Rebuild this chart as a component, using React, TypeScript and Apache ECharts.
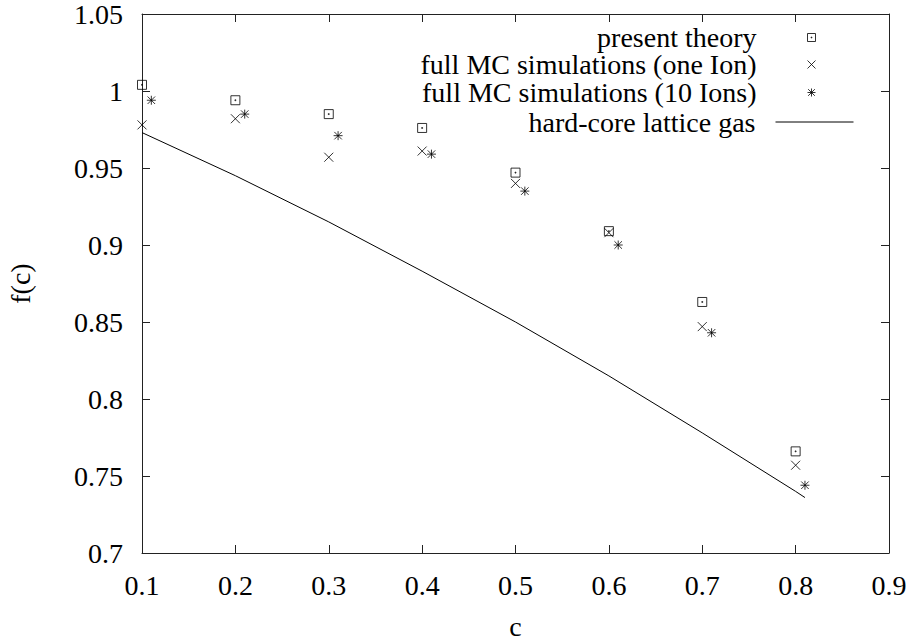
import React, { useEffect, useRef } from "react";
import * as echarts from "echarts";

const seriesNames = [
  "present theory",
  "full MC simulations (one Ion)",
  "full MC simulations (10 Ions)",
  "hard-core lattice gas",
];
const theoryC = [0.1, 0.2, 0.3, 0.4, 0.5, 0.6, 0.7, 0.8];
const theoryF = [1.004, 0.994, 0.985, 0.976, 0.947, 0.909, 0.863, 0.766];
const oneIonC = [0.1, 0.2, 0.3, 0.4, 0.5, 0.6, 0.7, 0.8];
const oneIonF = [0.978, 0.982, 0.957, 0.961, 0.94, 0.908, 0.847, 0.757];
const tenIonsC = [0.11, 0.21, 0.31, 0.41, 0.51, 0.61, 0.71, 0.81];
const tenIonsF = [0.994, 0.985, 0.971, 0.959, 0.935, 0.9, 0.843, 0.744];
const latticeC = [0.1, 0.2, 0.3, 0.4, 0.5, 0.6, 0.7, 0.8, 0.81];
const latticeF = [0.973, 0.945, 0.915, 0.883, 0.85, 0.815, 0.778, 0.74, 0.736];
const xTickLabels = ["0.1", "0.2", "0.3", "0.4", "0.5", "0.6", "0.7", "0.8", "0.9"];
const yTickLabels = ["0.7", "0.75", "0.8", "0.85", "0.9", "0.95", "1", "1.05"];

const SQ = "path://M0,0 L10,0 L10,10 L0,10 Z M4.5,4.5 L5.5,4.5 L5.5,5.5 L4.5,5.5 Z";
const CROSS = "path://M0,0 L10,10 M10,0 L0,10";
const STAR = "path://M0,0 L10,10 M10,0 L0,10 M5,-1 L5,11 M-1,5 L11,5";

const FONT = "'Liberation Serif', 'Times New Roman', serif";
const zip = (a: number[], b: number[]) => a.map((v, i) => [v, b[i]]);

export default function App() {
  const ref = useRef<HTMLDivElement>(null);
  useEffect(() => {
    if (!ref.current) return;
    const chart = echarts.init(ref.current, undefined, { renderer: "svg" });
    const textStyle = { fontFamily: FONT, fontSize: 28, color: "#000" };
    const legendText = { ...textStyle, lineHeight: 24 };
    const symStyle = { color: "transparent", borderColor: "#000", borderWidth: 1 };
    const axisLine = { show: true, lineStyle: { color: "#222", width: 1 } };
    const axisTick = { show: true, inside: true, length: 8, lineStyle: { color: "#222", width: 1 } };
    const scatterLegend = (name: string, icon: string, top: number) => ({
      data: [{ name, icon }],
      orient: "vertical",
      align: "right",
      right: 94,
      top,
      padding: 0,
      itemWidth: 100,
      itemHeight: 8,
      selectedMode: false,
      textStyle: legendText,
      itemStyle: symStyle,
    });
    chart.setOption({
      animation: false,
      backgroundColor: "#fff",
      textStyle: { fontFamily: FONT },
      grid: {
        left: 142,
        right: 21,
        top: 14,
        bottom: 88,
        show: false,
        containLabel: false,
        outerBoundsMode: "none",
      },
      legend: [
        scatterLegend(seriesNames[0], SQ, 23.5),
        scatterLegend(seriesNames[1], CROSS, 50.5),
        scatterLegend(seriesNames[2], STAR, 78.5),
        {
          data: [{ name: seriesNames[3] }],
          orient: "vertical",
          align: "right",
          right: 56,
          top: 108,
          padding: 0,
          itemWidth: 78,
          itemHeight: 8,
          selectedMode: false,
          textStyle: { ...legendText, padding: [0, 15, 0, 0] },
          lineStyle: { color: "#000", width: 1 },
          itemStyle: { color: "transparent", borderWidth: 0, opacity: 0 },
        },
      ],
      xAxis: [
        {
          type: "value",
          min: 0.1,
          max: 0.9,
          interval: 0.1,
          name: "c",
          nameLocation: "middle",
          nameGap: 59,
          nameTextStyle: textStyle,
          axisLine,
          axisTick,
          splitLine: { show: false },
          axisLabel: {
            fontFamily: FONT,
            fontSize: 28,
            color: "#000",
            margin: 18,
            formatter: (v: number) => xTickLabels[Math.round((v - 0.1) / 0.1)],
          },
        },
        {
          type: "value",
          position: "top",
          min: 0.1,
          max: 0.9,
          interval: 0.1,
          axisLine,
          axisTick,
          splitLine: { show: false },
          axisLabel: { show: false },
        },
      ],
      yAxis: [
        {
          type: "value",
          min: 0.7,
          max: 1.05,
          interval: 0.05,
          name: "f(c)",
          nameLocation: "middle",
          nameGap: 108,
          nameRotate: 90,
          nameTextStyle: textStyle,
          axisLine,
          axisTick,
          splitLine: { show: false },
          axisLabel: {
            fontFamily: FONT,
            fontSize: 28,
            color: "#000",
            margin: 19,
            formatter: (v: number) => yTickLabels[Math.round((v - 0.7) / 0.05)],
          },
        },
        {
          type: "value",
          position: "right",
          min: 0.7,
          max: 1.05,
          interval: 0.05,
          axisLine,
          axisTick,
          splitLine: { show: false },
          axisLabel: { show: false },
        },
      ],
      series: [
        {
          name: seriesNames[0],
          type: "scatter",
          symbol: SQ,
          symbolSize: 9,
          itemStyle: symStyle,
          data: zip(theoryC, theoryF),
        },
        {
          name: seriesNames[1],
          type: "scatter",
          symbol: CROSS,
          symbolSize: 9,
          itemStyle: symStyle,
          data: zip(oneIonC, oneIonF),
        },
        {
          name: seriesNames[2],
          type: "scatter",
          symbol: STAR,
          symbolSize: 9,
          itemStyle: symStyle,
          data: zip(tenIonsC, tenIonsF),
        },
        {
          name: seriesNames[3],
          type: "line",
          symbol: "none",
          showSymbol: false,
          lineStyle: { color: "#000", width: 1 },
          itemStyle: { color: "#000" },
          data: zip(latticeC, latticeF),
        },
      ],
    });
    return () => chart.dispose();
  }, []);
  return (
    <div
      ref={ref}
      style={{ position: "fixed", left: 0, top: 0, width: 910, height: 641, background: "#fff" }}
    />
  );
}
